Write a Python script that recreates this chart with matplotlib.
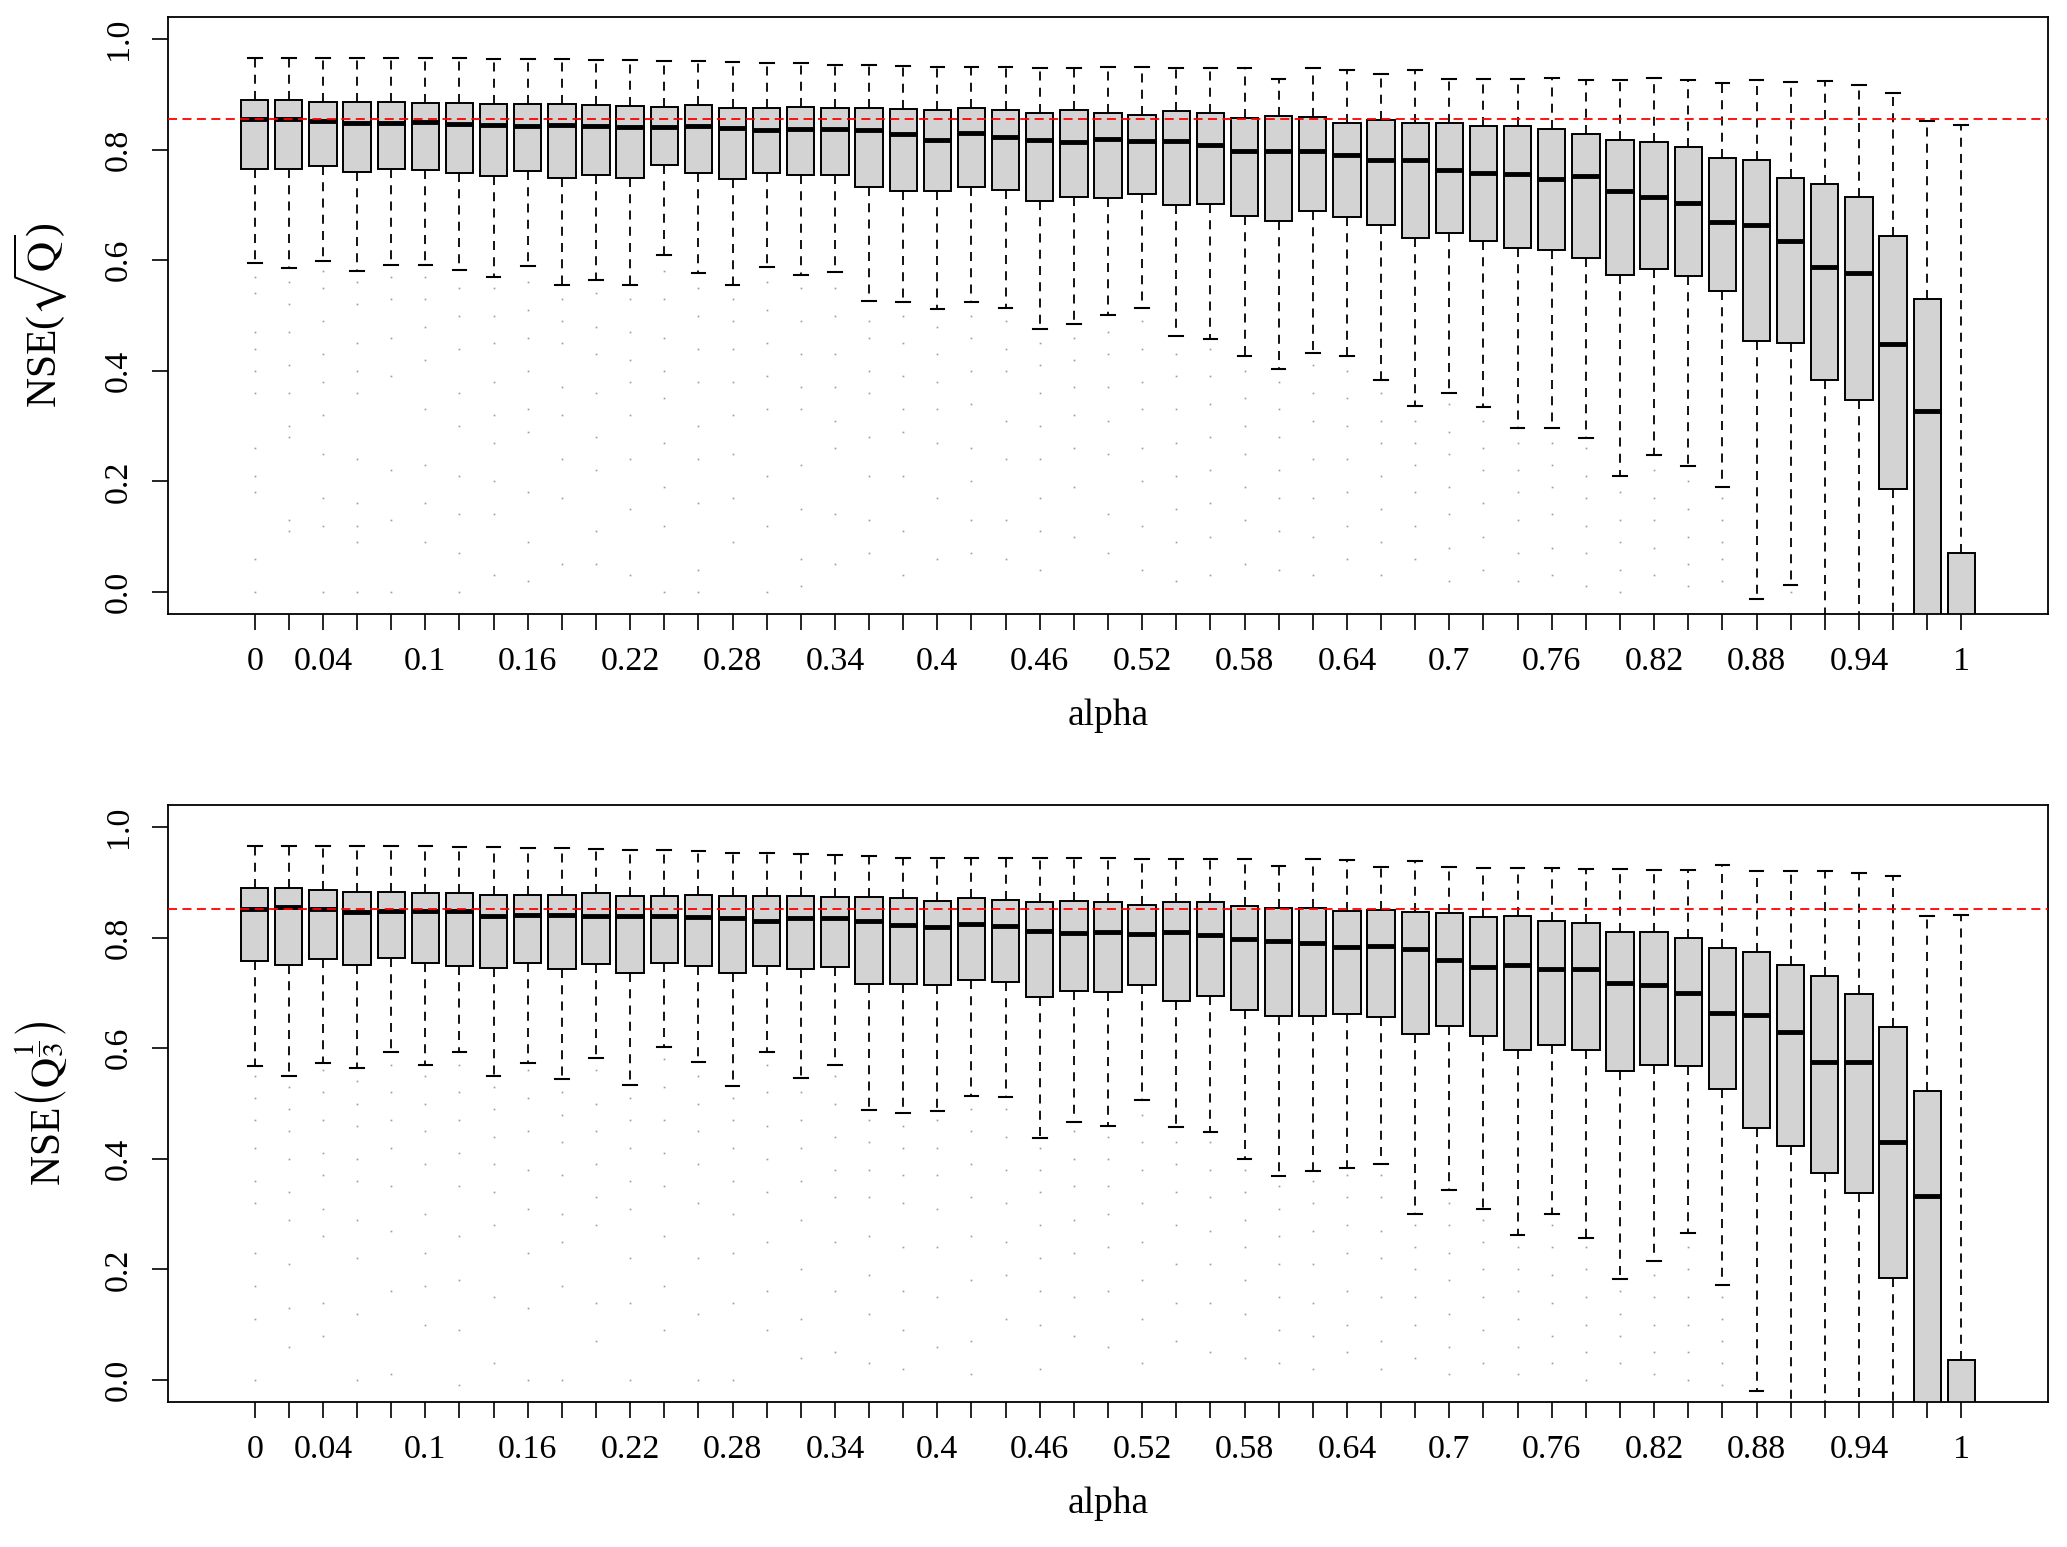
import numpy as np
import matplotlib
matplotlib.use("Agg")
from matplotlib import pyplot as plt

plt.rcParams['font.family'] = ['Liberation Serif', 'DejaVu Serif']
plt.rcParams['mathtext.fontset'] = 'stix'

# alpha categories 0, 0.02, ..., 1
alphas = [round(0.02 * i, 2) for i in range(51)]
labelled = [0, 2, 5, 8, 11, 14, 17, 20, 23, 26, 29, 32, 35, 38, 41, 44, 47, 50]

# ---- top panel: NSE(sqrt(Q)) ----
top_whishi = [0.966, 0.966, 0.966, 0.966, 0.966, 0.966, 0.966, 0.964, 0.964, 0.964,
              0.962, 0.962, 0.960, 0.960, 0.958, 0.957, 0.956, 0.954, 0.954, 0.952,
              0.950, 0.949, 0.949, 0.948, 0.948, 0.949, 0.949, 0.948, 0.947, 0.947,
              0.928, 0.947, 0.945, 0.936, 0.945, 0.928, 0.928, 0.928, 0.930, 0.926,
              0.926, 0.930, 0.926, 0.921, 0.926, 0.922, 0.924, 0.917, 0.902, 0.851, 0.845]
top_q3 = [0.889, 0.889, 0.887, 0.886, 0.886, 0.885, 0.885, 0.882, 0.882, 0.882,
          0.881, 0.879, 0.878, 0.880, 0.876, 0.876, 0.877, 0.875, 0.875, 0.873,
          0.872, 0.875, 0.872, 0.867, 0.872, 0.867, 0.862, 0.870, 0.866, 0.857,
          0.861, 0.860, 0.848, 0.853, 0.848, 0.848, 0.842, 0.843, 0.838, 0.829,
          0.818, 0.814, 0.804, 0.785, 0.781, 0.748, 0.738, 0.715, 0.644, 0.530, 0.071]
top_med = [0.856, 0.855, 0.851, 0.848, 0.849, 0.850, 0.847, 0.844, 0.843, 0.844,
           0.842, 0.841, 0.841, 0.842, 0.839, 0.836, 0.838, 0.837, 0.835, 0.829,
           0.818, 0.830, 0.823, 0.817, 0.813, 0.819, 0.815, 0.815, 0.808, 0.798,
           0.798, 0.798, 0.790, 0.782, 0.782, 0.764, 0.757, 0.756, 0.747, 0.753,
           0.725, 0.715, 0.704, 0.670, 0.663, 0.634, 0.588, 0.576, 0.449, 0.328, -0.35]
top_q1 = [0.765, 0.765, 0.770, 0.760, 0.765, 0.764, 0.758, 0.753, 0.762, 0.749,
          0.754, 0.749, 0.772, 0.757, 0.747, 0.757, 0.754, 0.755, 0.732, 0.726,
          0.726, 0.732, 0.727, 0.708, 0.714, 0.713, 0.720, 0.700, 0.702, 0.680,
          0.671, 0.689, 0.678, 0.664, 0.640, 0.650, 0.635, 0.623, 0.618, 0.604,
          0.574, 0.585, 0.571, 0.544, 0.453, 0.450, 0.383, 0.347, 0.187, -0.12, -0.9]
top_whislo = [0.595, 0.586, 0.599, 0.581, 0.592, 0.592, 0.583, 0.570, 0.589, 0.556,
              0.564, 0.556, 0.610, 0.577, 0.556, 0.587, 0.574, 0.579, 0.526, 0.525,
              0.511, 0.524, 0.513, 0.475, 0.484, 0.501, 0.514, 0.463, 0.458, 0.427,
              0.403, 0.432, 0.426, 0.383, 0.337, 0.359, 0.335, 0.296, 0.296, 0.279,
              0.209, 0.247, 0.228, 0.190, -0.013, 0.012, -0.5, -0.5, -0.9, -1.5, -2.0]
top_fliers = [
    [0.57, 0.54, 0.47, 0.44, 0.40, 0.36, 0.26, 0.21, 0.18, 0.06, 0.0],
    [0.56, 0.52, 0.47, 0.41, 0.36, 0.30, 0.28, 0.13, 0.11],
    [0.58, 0.55, 0.49, 0.43, 0.38, 0.32, 0.25, 0.17, 0.12, 0.0],
    [0.56, 0.52, 0.45, 0.40, 0.36, 0.24, 0.16, 0.12, 0.09, 0.0],
    [0.57, 0.53, 0.46, 0.39, 0.22, 0.13, 0.0],
    [0.57, 0.53, 0.48, 0.42, 0.33, 0.23, 0.16, 0.09],
    [0.55, 0.50, 0.44, 0.36, 0.30, 0.21, 0.14, 0.07, 0.0],
    [0.55, 0.50, 0.45, 0.38, 0.32, 0.27, 0.20, 0.14, 0.03],
    [0.56, 0.51, 0.46, 0.40, 0.33, 0.29, 0.18, 0.09, 0.02],
    [0.53, 0.49, 0.45, 0.37, 0.32, 0.24, 0.17, 0.05],
    [0.54, 0.48, 0.43, 0.36, 0.28, 0.22, 0.11, 0.05],
    [0.53, 0.47, 0.42, 0.38, 0.32, 0.24, 0.15, 0.03],
    [0.58, 0.53, 0.46, 0.40, 0.35, 0.27, 0.19, 0.12, 0.0],
    [0.55, 0.50, 0.44, 0.38, 0.30, 0.24, 0.16, 0.04, 0.0],
    [0.53, 0.49, 0.44, 0.38, 0.32, 0.25, 0.17, 0.09],
    [0.56, 0.51, 0.45, 0.39, 0.33, 0.21, 0.12, 0.0],
    [0.55, 0.49, 0.43, 0.37, 0.33, 0.23, 0.15, 0.06, 0.01],
    [0.55, 0.50, 0.43, 0.37, 0.31, 0.26, 0.14, 0.05],
    [0.49, 0.46, 0.40, 0.36, 0.28, 0.21, 0.13, 0.07],
    [0.50, 0.45, 0.39, 0.33, 0.29, 0.21, 0.11, 0.03],
    [0.48, 0.43, 0.38, 0.33, 0.27, 0.17, 0.06],
    [0.50, 0.46, 0.40, 0.34, 0.26, 0.20, 0.13, 0.07],
    [0.49, 0.44, 0.40, 0.31, 0.24, 0.13, 0.06],
    [0.45, 0.41, 0.36, 0.30, 0.24, 0.17, 0.11, 0.04],
    [0.46, 0.42, 0.37, 0.32, 0.26, 0.19, 0.10],
    [0.47, 0.43, 0.37, 0.31, 0.25, 0.14, 0.07],
    [0.49, 0.44, 0.38, 0.33, 0.26, 0.20, 0.12, 0.04],
    [0.43, 0.39, 0.33, 0.27, 0.21, 0.15, 0.09, 0.02],
    [0.44, 0.39, 0.34, 0.28, 0.22, 0.16, 0.10, 0.03],
    [0.40, 0.35, 0.30, 0.25, 0.19, 0.13, 0.05],
    [0.38, 0.33, 0.28, 0.22, 0.17, 0.11, 0.04],
    [0.41, 0.36, 0.31, 0.24, 0.17, 0.10, 0.03],
    [0.40, 0.35, 0.30, 0.24, 0.18, 0.12, 0.06],
    [0.36, 0.31, 0.27, 0.21, 0.15, 0.09, 0.03],
    [0.31, 0.27, 0.23, 0.18, 0.12, 0.06],
    [0.34, 0.29, 0.25, 0.19, 0.14, 0.08, 0.02],
    [0.31, 0.26, 0.22, 0.16, 0.10, 0.04],
    [0.27, 0.22, 0.18, 0.13, 0.07, 0.02],
    [0.27, 0.23, 0.19, 0.14, 0.08, 0.03],
    [0.26, 0.21, 0.17, 0.12, 0.07, 0.01],
    [0.18, 0.13, 0.09, 0.04, 0.0],
    [0.22, 0.17, 0.13, 0.08, 0.03],
    [0.20, 0.15, 0.10, 0.05, 0.01],
    [0.17, 0.13, 0.09, 0.06, 0.02],
    [], [0.0], [], [], [], [], [],
]

# ---- bottom panel: NSE(Q^(1/3)) ----
bot_whishi = [0.966, 0.966, 0.966, 0.966, 0.966, 0.965, 0.964, 0.964, 0.962, 0.962,
              0.960, 0.959, 0.958, 0.956, 0.954, 0.953, 0.951, 0.949, 0.947, 0.945,
              0.944, 0.944, 0.944, 0.944, 0.944, 0.944, 0.943, 0.943, 0.942, 0.942,
              0.929, 0.942, 0.940, 0.928, 0.938, 0.927, 0.926, 0.926, 0.926, 0.925,
              0.924, 0.923, 0.923, 0.932, 0.920, 0.920, 0.921, 0.917, 0.912, 0.839, 0.841]
bot_q3 = [0.890, 0.889, 0.886, 0.883, 0.883, 0.881, 0.880, 0.878, 0.878, 0.877,
          0.880, 0.876, 0.876, 0.877, 0.875, 0.875, 0.875, 0.874, 0.873, 0.871,
          0.867, 0.872, 0.868, 0.865, 0.867, 0.864, 0.860, 0.865, 0.865, 0.858,
          0.854, 0.854, 0.849, 0.850, 0.846, 0.844, 0.838, 0.839, 0.830, 0.826,
          0.811, 0.811, 0.800, 0.781, 0.774, 0.750, 0.730, 0.698, 0.638, 0.522, 0.036]
bot_med = [0.852, 0.856, 0.852, 0.846, 0.848, 0.848, 0.848, 0.839, 0.841, 0.841,
           0.839, 0.839, 0.839, 0.837, 0.835, 0.830, 0.835, 0.835, 0.830, 0.823,
           0.820, 0.825, 0.822, 0.812, 0.809, 0.811, 0.807, 0.811, 0.805, 0.798,
           0.794, 0.790, 0.783, 0.785, 0.779, 0.760, 0.747, 0.751, 0.744, 0.743,
           0.718, 0.715, 0.700, 0.663, 0.660, 0.629, 0.575, 0.575, 0.431, 0.333, -0.35]
bot_q1 = [0.757, 0.751, 0.761, 0.751, 0.764, 0.754, 0.748, 0.745, 0.755, 0.743,
          0.752, 0.736, 0.755, 0.749, 0.736, 0.748, 0.743, 0.747, 0.717, 0.716,
          0.715, 0.724, 0.719, 0.693, 0.704, 0.702, 0.715, 0.686, 0.695, 0.669,
          0.658, 0.659, 0.662, 0.657, 0.626, 0.640, 0.622, 0.597, 0.606, 0.597,
          0.558, 0.569, 0.568, 0.526, 0.455, 0.424, 0.375, 0.338, 0.184, -0.12, -0.9]
bot_whislo = [0.568, 0.549, 0.574, 0.565, 0.593, 0.569, 0.594, 0.549, 0.573, 0.544,
              0.583, 0.534, 0.603, 0.575, 0.532, 0.593, 0.547, 0.569, 0.488, 0.482,
              0.487, 0.513, 0.511, 0.438, 0.466, 0.460, 0.506, 0.457, 0.448, 0.399,
              0.369, 0.378, 0.384, 0.391, 0.300, 0.344, 0.310, 0.263, 0.301, 0.257,
              0.182, 0.215, 0.265, 0.171, -0.020, -0.5, -0.5, -0.5, -0.9, -1.5, -2.0]
bot_fliers = [
    [0.55, 0.51, 0.47, 0.42, 0.36, 0.32, 0.23, 0.17, 0.11, 0.0],
    [0.53, 0.49, 0.45, 0.40, 0.34, 0.29, 0.21, 0.13, 0.06],
    [0.56, 0.52, 0.47, 0.41, 0.37, 0.31, 0.26, 0.14, 0.08],
    [0.54, 0.50, 0.46, 0.40, 0.36, 0.29, 0.22, 0.12, 0.0],
    [0.57, 0.52, 0.47, 0.42, 0.35, 0.27, 0.16, 0.01],
    [0.55, 0.50, 0.45, 0.39, 0.30, 0.23, 0.17, 0.10],
    [0.57, 0.52, 0.47, 0.41, 0.35, 0.26, 0.18, 0.09, -0.01],
    [0.53, 0.49, 0.44, 0.39, 0.34, 0.28, 0.15, 0.03],
    [0.56, 0.51, 0.45, 0.38, 0.31, 0.23, 0.13, 0.0],
    [0.52, 0.48, 0.43, 0.37, 0.30, 0.25, 0.17, 0.0],
    [0.56, 0.50, 0.45, 0.39, 0.33, 0.28, 0.14, 0.07],
    [0.51, 0.47, 0.42, 0.36, 0.31, 0.22, 0.14, 0.0],
    [0.58, 0.53, 0.47, 0.41, 0.35, 0.26, 0.17, 0.09],
    [0.55, 0.50, 0.45, 0.39, 0.32, 0.22, 0.12, 0.0],
    [0.51, 0.47, 0.42, 0.36, 0.30, 0.23, 0.14, 0.0],
    [0.57, 0.52, 0.46, 0.40, 0.34, 0.25, 0.16, 0.09],
    [0.52, 0.47, 0.42, 0.36, 0.29, 0.20, 0.11, 0.04],
    [0.55, 0.50, 0.44, 0.38, 0.33, 0.25, 0.16, 0.05],
    [0.47, 0.43, 0.38, 0.33, 0.26, 0.19, 0.12, 0.03],
    [0.46, 0.42, 0.37, 0.32, 0.24, 0.16, 0.09, 0.02],
    [0.47, 0.42, 0.37, 0.31, 0.24, 0.15, 0.06],
    [0.49, 0.45, 0.39, 0.33, 0.26, 0.18, 0.07, 0.01],
    [0.49, 0.44, 0.38, 0.32, 0.25, 0.19, 0.11],
    [0.42, 0.38, 0.34, 0.28, 0.22, 0.16, 0.10, 0.02],
    [0.45, 0.40, 0.35, 0.29, 0.23, 0.15, 0.08],
    [0.44, 0.40, 0.35, 0.30, 0.24, 0.16, 0.06],
    [0.48, 0.43, 0.38, 0.32, 0.25, 0.18, 0.11, 0.03],
    [0.43, 0.39, 0.34, 0.28, 0.21, 0.14, 0.07],
    [0.43, 0.38, 0.33, 0.27, 0.21, 0.14, 0.05],
    [0.38, 0.34, 0.29, 0.24, 0.18, 0.12, 0.04],
    [0.35, 0.31, 0.26, 0.21, 0.15, 0.09, 0.03],
    [0.36, 0.32, 0.27, 0.21, 0.14, 0.08, 0.02],
    [0.37, 0.33, 0.28, 0.23, 0.16, 0.10, 0.05],
    [0.37, 0.33, 0.27, 0.22, 0.15, 0.07, 0.02],
    [0.28, 0.24, 0.20, 0.15, 0.10, 0.04],
    [0.32, 0.28, 0.23, 0.18, 0.12, 0.06, 0.01],
    [0.29, 0.25, 0.20, 0.15, 0.09, 0.03],
    [0.24, 0.20, 0.16, 0.11, 0.06, 0.01],
    [0.28, 0.24, 0.19, 0.14, 0.08, 0.03],
    [0.24, 0.20, 0.15, 0.10, 0.05, 0.0],
    [0.16, 0.12, 0.08, 0.03],
    [0.19, 0.15, 0.10, 0.05, 0.01],
    [0.24, 0.20, 0.15, 0.10, 0.05, 0.0],
    [0.15, 0.11, 0.07, 0.03, -0.01],
    [], [], [], [], [], [], [],
]

ref_top = 0.856
ref_bot = 0.851

W, H = 2067, 1547
fig = plt.figure(figsize=(W / 100, H / 100), dpi=100)
ax1 = fig.add_axes([168 / W, 1 - 614 / H, 1880 / W, 597 / H])
ax2 = fig.add_axes([168 / W, 1 - 1402 / H, 1880 / W, 597 / H])

positions = np.arange(1, len(alphas) + 1)
xlabels = [('%g' % a if i in labelled else '') for i, a in enumerate(alphas)]


def draw_panel(ax, whishi, q3, med, q1, whislo, fliers, ref, ylab):
    stats = []
    for i in range(len(alphas)):
        stats.append(dict(med=med[i], q1=q1[i], q3=q3[i], whislo=whislo[i],
                          whishi=whishi[i], fliers=fliers[i]))
    ax.bxp(stats, positions=positions, widths=0.8, patch_artist=True,
           boxprops=dict(facecolor='#d3d3d3', edgecolor='black', linewidth=1.4),
           medianprops=dict(color='black', linewidth=3.5, solid_capstyle='butt'),
           whiskerprops=dict(color='black', linestyle=(0, (5, 4)), linewidth=1.3),
           capprops=dict(color='black', linewidth=1.5), capwidths=0.4,
           flierprops=dict(marker='s', markersize=1.2, markerfacecolor='#9a9a9a',
                           markeredgecolor='none', linestyle='none'))
    ax.axhline(ref, color='red', linestyle=(0, (5, 3)), linewidth=1.3, zorder=5)

    ax.set_xlim(-1.54, 53.54)
    ax.set_ylim(-0.04, 1.04)
    ax.set_xticks(positions)
    ax.set_xticklabels(xlabels, fontsize=24.5)
    yt = [0.0, 0.2, 0.4, 0.6, 0.8, 1.0]
    ax.set_yticks(yt)
    ax.set_yticklabels(['%.1f' % v for v in yt], fontsize=24.5, rotation=90, va='center')
    ax.tick_params(axis='both', direction='out', length=11.3, width=1.2)
    ax.tick_params(axis='x', pad=12)
    ax.tick_params(axis='y', pad=13)
    for s in ax.spines.values():
        s.set_linewidth(1.3)

    ax.set_xlabel('alpha', fontsize=27)
    ax.xaxis.set_label_coords(0.5, -0.142)
    ax.set_ylabel(ylab, fontsize=30)
    ax.yaxis.set_label_coords(-0.052, 0.5)


draw_panel(ax1, top_whishi, top_q3, top_med, top_q1, top_whislo, top_fliers,
           ref_top, r'NSE($\sqrt{\mathrm{Q}}$)')
draw_panel(ax2, bot_whishi, bot_q3, bot_med, bot_q1, bot_whislo, bot_fliers,
           ref_bot, r'NSE$\left(\mathrm{Q}^{\dfrac{1}{3}}\right)$')

fig.savefig('out.png', dpi=100)
